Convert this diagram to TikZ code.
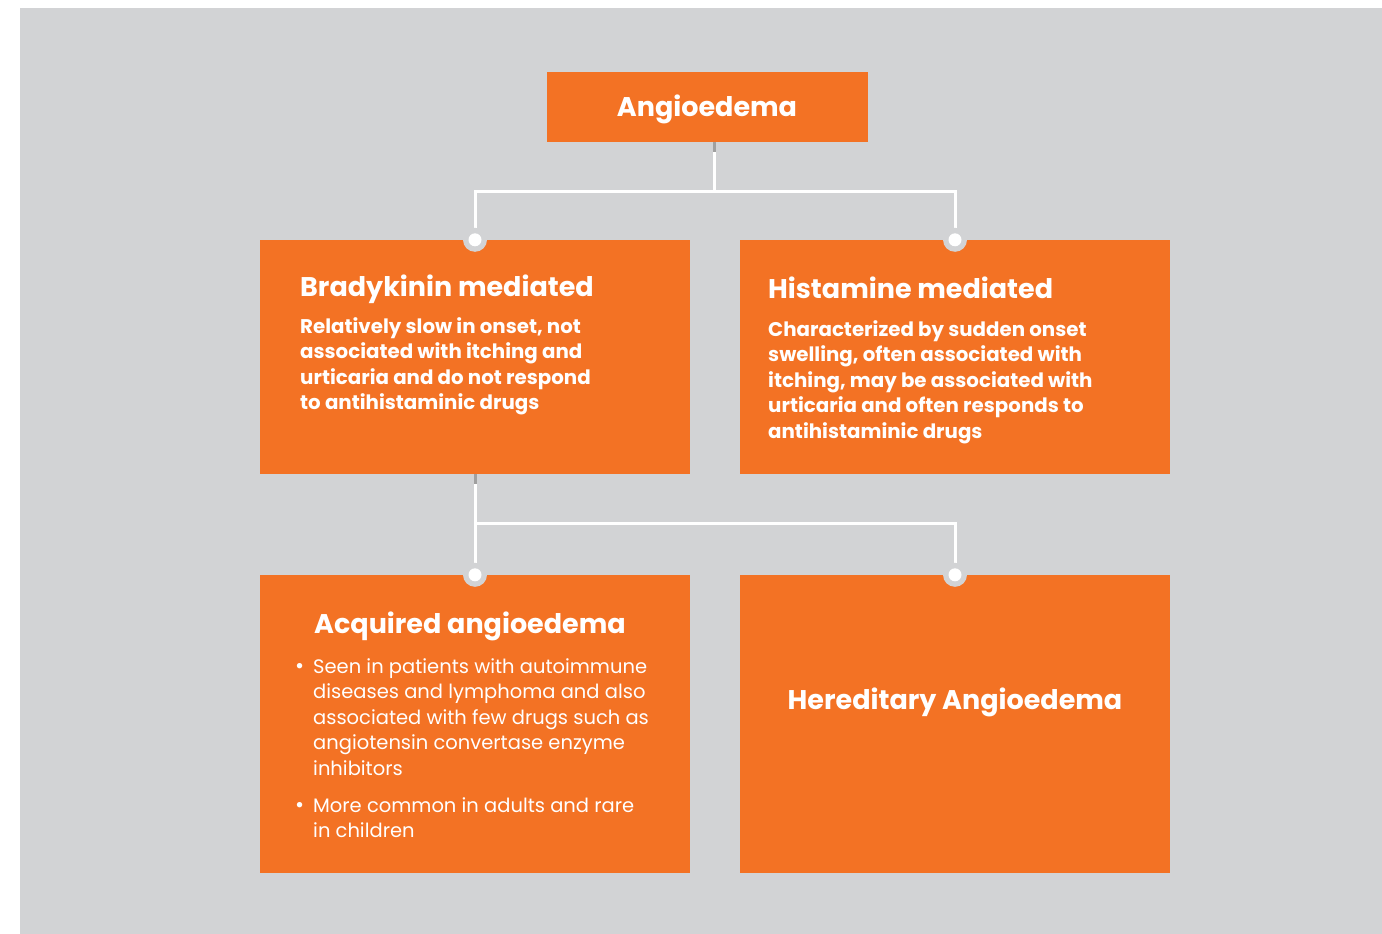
\documentclass[tikz,border=0pt]{standalone}
\usepackage{fontspec}
\setmainfont{Poppins}
\definecolor{bggray}{HTML}{D2D3D5}
\definecolor{boxorange}{HTML}{F37224}
\definecolor{stubgray}{HTML}{A0A0A0}

\tikzset{
  box/.style={fill=boxorange, inner sep=0pt, minimum width=430pt},
  headtext/.style={text=white, inner sep=0pt, font=\fontsize{27}{32}\selectfont\bfseries},
  bodytext/.style={text=white, inner sep=0pt, align=left, font=\fontsize{19.8}{25.5}\selectfont\bfseries},
  listtext/.style={text=white, inner sep=0pt, align=left, font=\fontsize{19.5}{25.5}\selectfont},
  link/.style={white, line width=3pt},
  stub/.style={stubgray, line width=3pt}
}
\newcommand{\joint}[1]{%
  \fill[bggray] (#1) circle (12pt);
  \fill[white] (#1) circle (6.5pt);
}
\newcommand{\dotmark}{\makebox[18pt][l]{\fontsize{22}{22}\selectfont•}}

\begin{document}
\begin{tikzpicture}[x=1pt,y=-1pt]
  \useasboundingbox (0,0) rectangle (1382,934);
  \fill[bggray] (20,8) rectangle (1382,934);

  % boxes
  \node[box, minimum width=321pt, minimum height=70pt] (angio) at (707.5,107) {};
  \node[box, minimum height=234pt] (brady) at (475,357) {};
  \node[box, minimum height=234pt] (hist) at (955,357) {};
  \node[box, minimum height=298pt] (acq) at (475,724) {};
  \node[box, minimum height=298pt] (hered) at (955,724) {};

  % first level
  \draw[stub] ([xshift=6.5pt]angio.south) -- ++(0,10) coordinate (s1);
  \coordinate (j1) at (714,191);
  \draw[link] (s1) -- (j1);
  \draw[link] (brady.north) |- (j1) -| (hist.north);
  \joint{brady.north}
  \joint{hist.north}

  % second level
  \draw[stub] (brady.south) -- ++(0,10) coordinate (s2);
  \coordinate (j2) at (475,523);
  \draw[link] (s2) -- (acq.north);
  \draw[link] (j2) -| (hered.north);
  \joint{acq.north}
  \joint{hered.north}

  % texts (multi-line nodes sit on their last baseline)
  \node[headtext, anchor=base] (angiotitle) at (707,117) {Angioedema};

  \node[headtext, anchor=base west] (bradytitle) at (300,296) {Bradykinin mediated};
  \node[bodytext, anchor=base west] (bradybody) at (300,409.5) {Relatively slow in onset, not\\
    associated with itching and\\
    urticaria and do not respond\\
    to antihistaminic drugs};

  \node[headtext, anchor=base west] (histtitle) at (768,298) {Histamine mediated};
  \node[bodytext, anchor=base west] (histbody) at (768,438) {Characterized by sudden onset\\
    swelling, often associated with\\
    itching, may be associated with\\
    urticaria and often responds to\\
    antihistaminic drugs};

  \node[headtext, anchor=base west] (acqtitle) at (314,633) {Acquired angioedema};
  \node[listtext, anchor=base west] (acqone) at (295,775) {\dotmark Seen in patients with autoimmune\\
    \hspace*{18pt}diseases and lymphoma and also\\
    \hspace*{18pt}associated with few drugs such as\\
    \hspace*{18pt}angiotensin convertase enzyme\\
    \hspace*{18pt}inhibitors};
  \node[listtext, anchor=base west] (acqtwo) at (295,837.5) {\dotmark More common in adults and rare\\
    \hspace*{18pt}in children};

  \node[headtext, anchor=base] (heredtitle) at (955,709) {Hereditary Angioedema};
\end{tikzpicture}
\end{document}
